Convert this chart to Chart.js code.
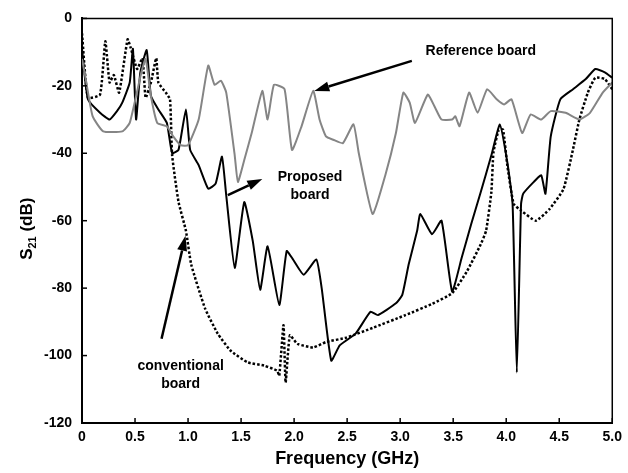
<!DOCTYPE html>
<html>
<head>
<meta charset="utf-8">
<script src="https://cdn.jsdelivr.net/npm/chart.js@4.4.1/dist/chart.umd.min.js"></script>
<style>
  html, body { margin: 0; padding: 0; background: #fff; }
  #wrap { width: 628px; height: 473px; position: relative; }
</style>
</head>
<body>
<div id="wrap"><canvas id="s21Chart"></canvas></div>
<script>
// Reference board (gray)
const refFreq = [0, 0.03, 0.10, 0.20, 0.38, 0.45, 0.56, 0.60, 0.65, 0.71, 0.80, 0.86, 0.93, 1.00, 1.10, 1.19, 1.25, 1.31, 1.36, 1.44, 1.47, 1.53, 1.60, 1.70, 1.75, 1.81, 1.91, 1.98, 2.07, 2.18, 2.24, 2.30, 2.37, 2.46, 2.56, 2.61, 2.74, 2.86, 2.96, 3.03, 3.09, 3.14, 3.26, 3.33, 3.39, 3.49, 3.52, 3.56, 3.65, 3.73, 3.82, 3.91, 3.98, 4.05, 4.15, 4.23, 4.33, 4.42, 4.56, 4.69, 4.79, 4.91, 5.0];
const refS21 = [-12, -17, -29, -33.5, -33.5, -31, -16, -12, -23, -31, -32, -35, -37.6, -37.6, -30, -14, -19.7, -18.5, -22, -40.6, -48.5, -42, -34, -21.5, -30, -19.7, -21, -39, -32, -21.5, -30, -35, -36, -37, -31.4, -40, -58, -46.5, -34, -22, -25, -31, -22.6, -26.5, -30, -30, -29, -32, -22, -28, -21, -24, -25.5, -24, -34, -28.5, -30, -27.5, -28, -30, -28, -22, -19];

// Proposed board (solid black)
const propFreq = [0, 0.056, 0.17, 0.26, 0.33, 0.38, 0.45, 0.48, 0.51, 0.55, 0.61, 0.65, 0.72, 0.80, 0.85, 0.91, 0.98, 1.02, 1.10, 1.19, 1.26, 1.32, 1.36, 1.44, 1.53, 1.61, 1.68, 1.75, 1.86, 1.93, 1.99, 2.09, 2.21, 2.26, 2.35, 2.43, 2.58, 2.72, 2.79, 2.96, 3.02, 3.08, 3.16, 3.19, 3.30, 3.39, 3.49, 3.58, 3.67, 3.76, 3.86, 3.94, 4.01, 4.06, 4.10, 4.14, 4.16, 4.26, 4.33, 4.37, 4.42, 4.51, 4.63, 4.75, 4.84, 4.93, 5.0];
const propS21 = [-9, -24, -28, -30, -27.5, -25, -19, -9, -30, -16, -9.4, -23, -27, -31, -40, -39, -27, -39, -43.5, -50.5, -49, -41, -52.5, -74, -54.5, -66, -80.5, -67.6, -85, -69, -71.5, -76, -71.5, -80, -101.5, -97, -93.5, -87, -88, -84.5, -82, -73, -63, -58, -64, -60, -81, -71, -61, -51.5, -40.6, -31.5, -42.6, -55, -105, -55, -52, -48.5, -46.5, -52, -35, -24, -21, -18, -15, -16, -17.6];

// Conventional board (dotted black)
const convFreq = [0, 0.056, 0.17, 0.22, 0.26, 0.30, 0.35, 0.43, 0.46, 0.52, 0.57, 0.60, 0.65, 0.70, 0.72, 0.79, 0.83, 0.85, 0.91, 0.98, 1.03, 1.16, 1.28, 1.40, 1.56, 1.72, 1.84, 1.86, 1.90, 1.92, 1.96, 2.03, 2.18, 2.30, 2.49, 2.74, 3.05, 3.30, 3.49, 3.63, 3.76, 3.81, 3.86, 3.88, 3.93, 3.97, 4.01, 4.07, 4.14, 4.28, 4.41, 4.54, 4.63, 4.69, 4.77, 4.84, 4.93, 5.0];
const convS21 = [-4.4, -23.5, -22.6, -6.8, -19, -16.8, -22, -6.2, -8.8, -15, -11.8, -23.5, -19, -11.8, -19, -22, -24, -40.6, -54.4, -63, -73, -86, -93.5, -98.5, -102, -103, -104.5, -106, -91, -108, -94, -96.5, -97.6, -96, -94.7, -91.8, -88, -84.7, -81.5, -75, -67, -63, -51.5, -39.7, -33, -33, -43.5, -55, -57, -60, -56.5, -50.6, -38.8, -30, -22, -17.6, -18, -21];

const xTicks = [0, 0.5, 1, 1.5, 2, 2.5, 3, 3.5, 4, 4.5, 5];
const yTicks = [0, -20, -40, -60, -80, -100, -120];

// labels and arrows placed in data units
const notes = [
  { lines: ['Reference board'], x: 3.76, y: -9.7, from: [3.11, -12.6], to: [2.19, -21.5] },
  { lines: ['Proposed', 'board'], x: 2.15, y: -47, from: [1.375, -52.4], to: [1.70, -47.6] },
  { lines: ['conventional', 'board'], x: 0.93, y: -103, from: [0.75, -95], to: [0.976, -64.5] }
];

const toPts = (xs, ys) => xs.map((x, i) => ({ x: x, y: ys[i] }));

function arrow(ctx, x1, y1, x2, y2) {
    const a = Math.atan2(y2 - y1, x2 - x1);
    const len = 15, half = 5;
    const bx = x2 - len * Math.cos(a), by = y2 - len * Math.sin(a);
    ctx.beginPath();
    ctx.moveTo(x1, y1);
    ctx.lineTo(bx, by);
    ctx.lineWidth = 2.5;
    ctx.strokeStyle = '#000';
    ctx.stroke();
    ctx.beginPath();
    ctx.moveTo(x2, y2);
    ctx.lineTo(bx + half * Math.sin(a), by - half * Math.cos(a));
    ctx.lineTo(bx - half * Math.sin(a), by + half * Math.cos(a));
    ctx.closePath();
    ctx.fillStyle = '#000';
    ctx.fill();
}

const extras = {
    id: 'extras',
    afterDraw(chart) {
        const ctx = chart.ctx;
        const xs = chart.scales.x, ys = chart.scales.y;
        const area = chart.chartArea;
        ctx.save();
        // frame top/right
        ctx.strokeStyle = '#000';
        ctx.lineWidth = 1.5;
        ctx.beginPath();
        ctx.moveTo(area.left, area.top);
        ctx.lineTo(area.right, area.top);
        ctx.lineTo(area.right, area.bottom);
        ctx.stroke();
        // inward ticks
        ctx.lineWidth = 1.5;
        xTicks.forEach(t => {
            const px = xs.getPixelForValue(t);
            ctx.beginPath();
            ctx.moveTo(px, area.bottom);
            ctx.lineTo(px, area.bottom - 5);
            ctx.stroke();
        });
        yTicks.forEach(t => {
            const py = ys.getPixelForValue(t);
            ctx.beginPath();
            ctx.moveTo(area.left, py);
            ctx.lineTo(area.left + 5, py);
            ctx.stroke();
        });
        // annotations
        ctx.font = 'bold 14px "Liberation Sans", Arial, sans-serif';
        ctx.textAlign = 'center';
        ctx.textBaseline = 'middle';
        ctx.fillStyle = '#000';
        notes.forEach(n => {
            const cx = xs.getPixelForValue(n.x), cy = ys.getPixelForValue(n.y);
            n.lines.forEach((s, i) => ctx.fillText(s, cx, cy + i * 18));
            arrow(ctx, xs.getPixelForValue(n.from[0]), ys.getPixelForValue(n.from[1]),
                  xs.getPixelForValue(n.to[0]), ys.getPixelForValue(n.to[1]));
        });
        // y title with subscript
        ctx.translate(27, (area.top + area.bottom) / 2 + 8);
        ctx.rotate(-Math.PI / 2);
        ctx.textAlign = 'left';
        ctx.textBaseline = 'middle';
        ctx.font = 'bold 17px "Liberation Sans", Arial, sans-serif';
        const wS = ctx.measureText('S').width;
        ctx.font = 'bold 11px "Liberation Sans", Arial, sans-serif';
        const wSub = ctx.measureText('21').width;
        ctx.font = 'bold 17px "Liberation Sans", Arial, sans-serif';
        const wRest = ctx.measureText(' (dB)').width;
        let x0 = -(wS + wSub + wRest) / 2;
        ctx.fillText('S', x0, 0);
        ctx.font = 'bold 11px "Liberation Sans", Arial, sans-serif';
        ctx.fillText('21', x0 + wS, 6);
        ctx.font = 'bold 17px "Liberation Sans", Arial, sans-serif';
        ctx.fillText(' (dB)', x0 + wS + wSub, 0);
        ctx.restore();
    }
};

const tickFont = { family: '"Liberation Sans", Arial, sans-serif', size: 14, weight: 'bold' };

const s21Chart = new Chart(document.getElementById('s21Chart').getContext('2d'), {
    type: 'line',
    data: {
        datasets: [
            {
                label: 'Reference board',
                data: toPts(refFreq, refS21),
                borderColor: '#858585',
                borderWidth: 2,
                pointRadius: 0,
                tension: 0.15
            },
            {
                label: 'Proposed board',
                data: toPts(propFreq, propS21),
                borderColor: '#000',
                borderWidth: 2,
                pointRadius: 0,
                tension: 0.15
            },
            {
                label: 'conventional board',
                data: toPts(convFreq, convS21),
                borderColor: '#000',
                borderWidth: 2.5,
                borderDash: [2.5, 2],
                pointRadius: 0,
                tension: 0.15
            }
        ]
    },
    options: {
        responsive: true,
        maintainAspectRatio: false,
        animation: false,
        layout: { padding: { left: 0, top: 15, right: 8, bottom: 0 } },
        plugins: { legend: { display: false }, tooltip: { enabled: false } },
        scales: {
            x: {
                type: 'linear',
                min: 0,
                max: 5,
                afterFit: s => { s.height = 50; },
                afterBuildTicks: s => { s.ticks = xTicks.map(v => ({ value: v })); },
                grid: { display: false, drawTicks: false },
                border: { display: true, color: '#000', width: 2 },
                ticks: { color: '#000', font: tickFont, padding: 6, maxRotation: 0 },
                title: {
                    display: true,
                    text: 'Frequency (GHz)',
                    color: '#000',
                    font: { family: '"Liberation Sans", Arial, sans-serif', size: 18, weight: 'bold' },
                    padding: { top: 0, bottom: 3 }
                }
            },
            y: {
                min: -120,
                max: 0,
                afterFit: s => { s.width = 82; },
                afterBuildTicks: s => { s.ticks = yTicks.map(v => ({ value: v })); },
                grid: { display: false, drawTicks: false },
                border: { display: true, color: '#000', width: 2 },
                ticks: { color: '#000', font: tickFont, padding: 10 }
            }
        }
    },
    plugins: [extras]
});
</script>
</body>
</html>
